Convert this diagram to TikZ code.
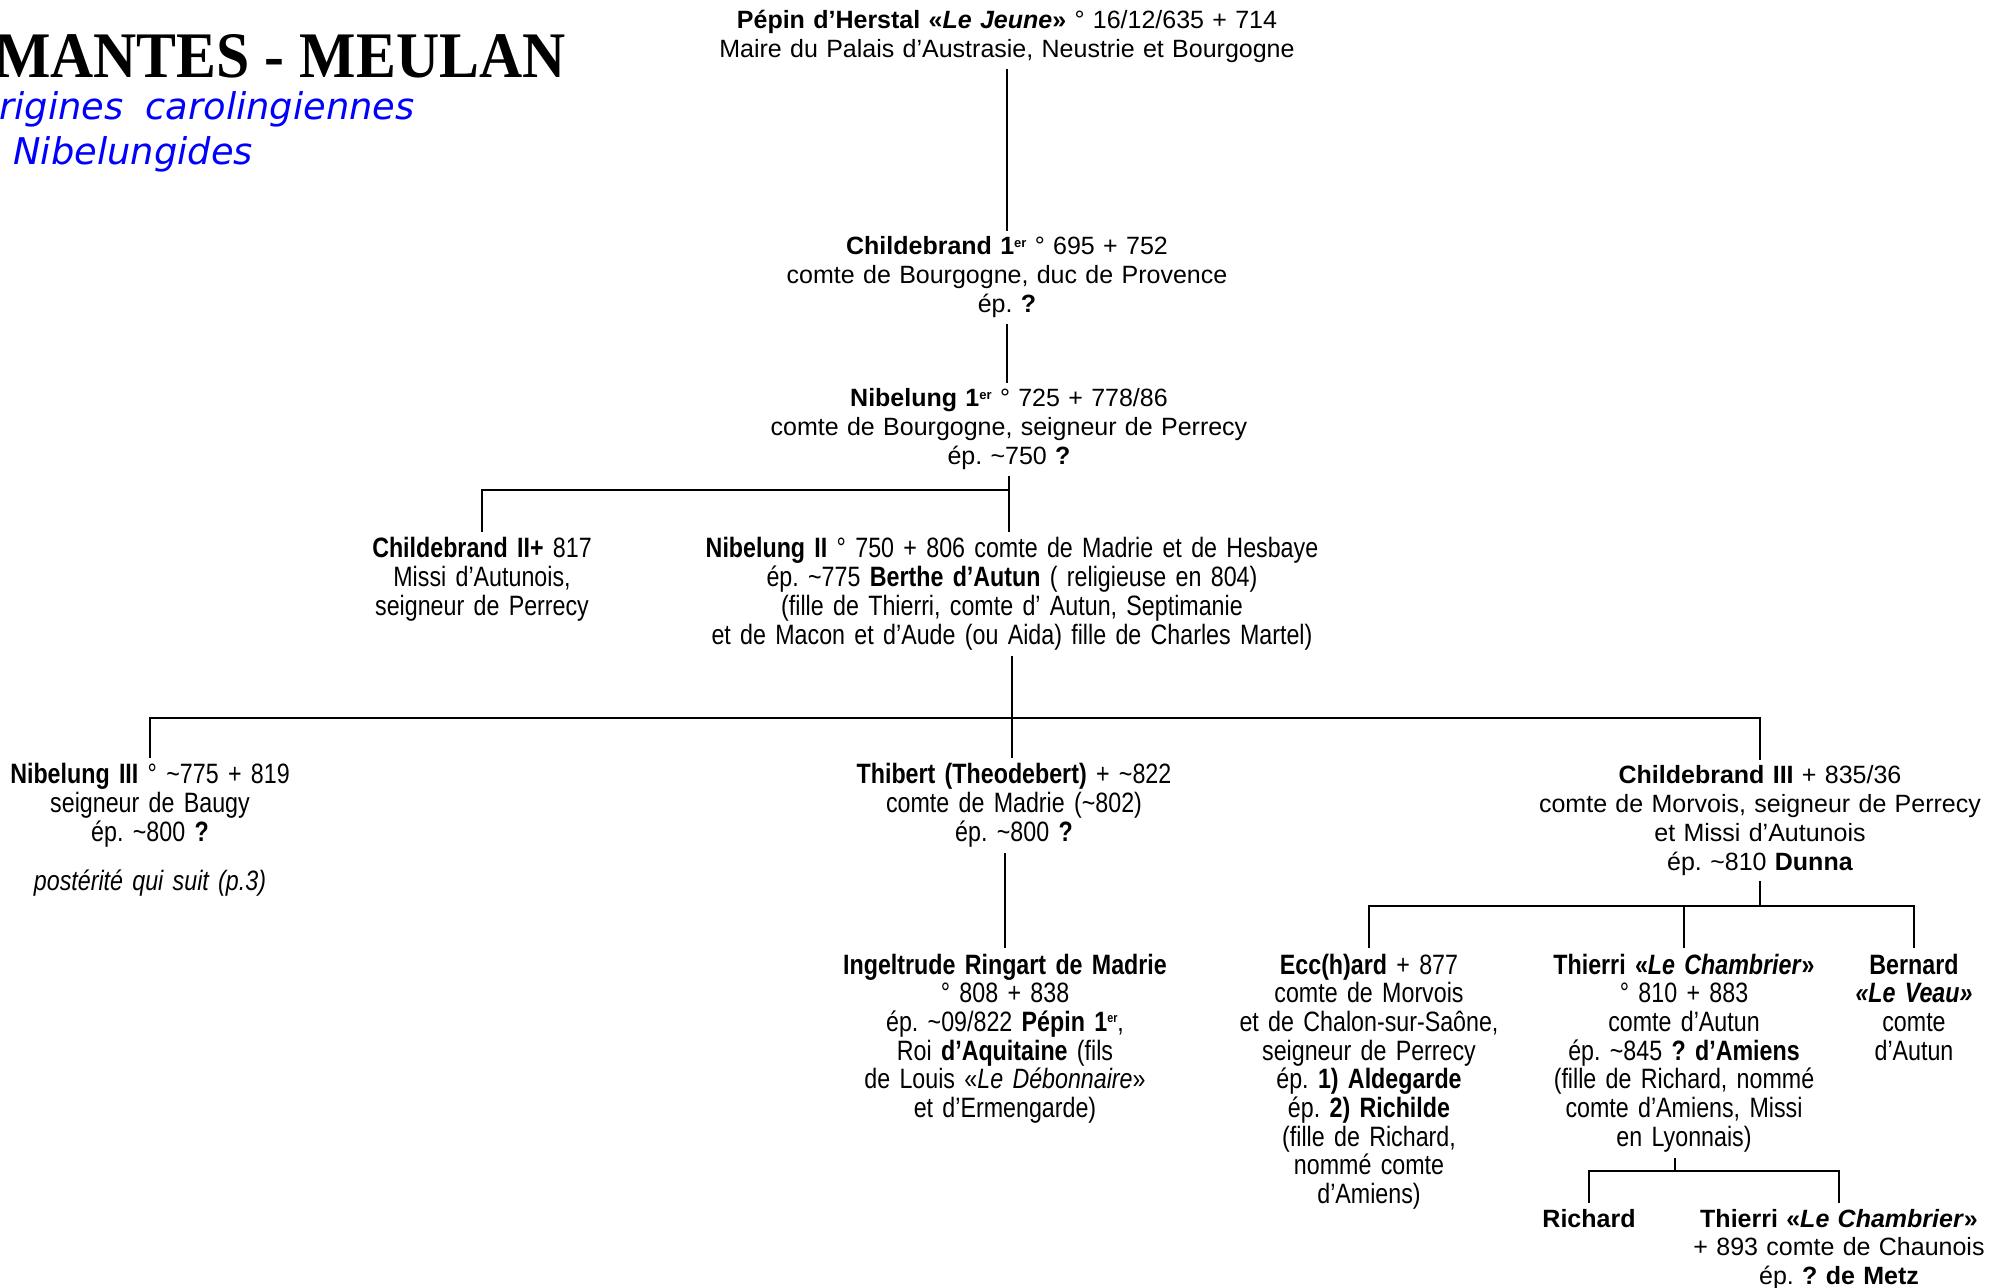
\documentclass[tikz,border=0pt]{standalone}
\usepackage{fontspec}
\setmainfont{Liberation Sans}
\newfontfamily\nf[FakeStretch=0.83]{Liberation Sans}
\newfontfamily\titlefont[FakeStretch=0.92]{Liberation Serif}
\newfontfamily\subfont{DejaVu Sans}
\definecolor{subblue}{RGB}{0,0,255}
\newcommand\ersup{\raisebox{0.6ex}{\fontsize{6.5}{7}\selectfont er}}
\frenchspacing
\begin{document}
\begin{tikzpicture}[x=0.5pt,y=-0.5pt,
  reg/.style={font=\fontsize{12.5}{14.35}\selectfont, align=center, text width=#1, anchor=base, inner sep=0pt, outer ysep=3pt},
  reg/.default=300pt,
  nar/.style={font=\nf\fontsize{14}{14.35}\selectfont, align=center, text width=#1, anchor=base, inner sep=0pt, outer ysep=3pt},
  nar/.default=300pt,
  subt/.style={font=\subfont\itshape\fontsize{18.4}{22}\selectfont, text=subblue, anchor=base west, inner sep=0pt},
  link/.style={line width=1.25pt}]
\useasboundingbox (0,0) rectangle (1999,1288);
\clip (0,0) rectangle (1999,1288);

% titles
\node[font=\titlefont\bfseries\fontsize{32.5}{38}\selectfont, anchor=base east, inner sep=0pt] (title) at (566,78) {MANTES - MEULAN};
\node[subt] (sub1) at (-1,120) {rigines\hspace{0.6em}carolingiennes};
\node[subt] (sub2) at (13,165) {Nibelungides};

% generation 1
\node[reg=400pt] (pepin) at (1007,29) {\textbf{Pépin d’Herstal «\textit{Le Jeune}»} ° 16/12/635 + 714\\Maire du Palais d’Austrasie, Neustrie et Bourgogne};
\node[reg] (chI) at (1007,255) {\textbf{Childebrand 1\ersup} ° 695 + 752\\comte de Bourgogne, duc de Provence\\ép. \textbf{?}};
\node[reg] (nibI) at (1009,407) {\textbf{Nibelung 1\ersup} ° 725 + 778/86\\comte de Bourgogne, seigneur de Perrecy\\ép. \textasciitilde750 \textbf{?}};

\node[nar=150pt] (chII) at (482,558) {\textbf{Childebrand II+} 817\\Missi d’Autunois,\\seigneur de Perrecy};
\node[nar=400pt] (nibII) at (1012,558) {\textbf{Nibelung II} ° 750 + 806 comte de Madrie et de Hesbaye\\ép. \textasciitilde775 \textbf{Berthe d’Autun} ( religieuse en 804)\\(fille de Thierri, comte d’ Autun, Septimanie\\et de Macon et d’Aude (ou Aida) fille de Charles Martel)};

\node[nar=200pt] (nibIII) at (150,784) {\textbf{Nibelung III} ° \textasciitilde775 + 819\\seigneur de Baugy\\ép. \textasciitilde800 \textbf{?}};
\node[nar=200pt, font=\nf\itshape\fontsize{14}{14.35}\selectfont] (post) at (150,891) {postérité qui suit (p.3)};
\node[nar=250pt] (thib) at (1014,784) {\textbf{Thibert (Theodebert)} + \textasciitilde822\\comte de Madrie (\textasciitilde802)\\ép. \textasciitilde800 \textbf{?}};
\node[reg=260pt] (chIII) at (1760,784) {\textbf{Childebrand III} + 835/36\\comte de Morvois, seigneur de Perrecy\\et Missi d’Autunois\\ép. \textasciitilde810 \textbf{Dunna}};

\node[nar=200pt] (ingel) at (1005,974) {\textbf{Ingeltrude Ringart de Madrie}\\° 808 + 838\\ép. \textasciitilde09/822 \textbf{Pépin 1\ersup},\\Roi \textbf{d’Aquitaine} (fils\\de Louis «\textit{Le Débonnaire}»\\et d’Ermengarde)};
\node[nar=150pt] (ecc) at (1369,974) {\textbf{Ecc(h)ard} + 877\\comte de Morvois\\et de Chalon-sur-Saône,\\seigneur de Perrecy\\ép. \textbf{1) Aldegarde}\\ép. \textbf{2) Richilde}\\(fille de Richard,\\nommé comte\\d’Amiens)};
\node[nar=150pt] (thI) at (1684,974) {\textbf{Thierri «\textit{Le Chambrier}»}\\° 810 + 883\\comte d’Autun\\ép. \textasciitilde845 \textbf{? d’Amiens}\\(fille de Richard, nommé\\comte d’Amiens, Missi\\en Lyonnais)};
\node[nar=80pt] (bern) at (1914,974) {\textbf{Bernard}\\\textbf{\textit{«Le Veau»}}\\comte\\d’Autun};

\node[reg=100pt] (rich) at (1589,1227) {\textbf{Richard}};
\node[reg=180pt] (thII) at (1839,1227) {\textbf{Thierri «\textit{Le Chambrier}»}\\+ 893 comte de Chaunois\\ép. \textbf{? de Metz}};

% connectors
\draw[link] (pepin.south) -- (pepin.south |- chI.north);
\draw[link] (chI.south) -- (chI.south |- nibI.north);
\coordinate (j1) at (1010,490);
\draw[link] (chII.north) -- (chII.north |- j1) -| (nibI.south);
\draw[link] (nibI.south) -- (nibI.south |- nibII.north);

\coordinate (j2) at (1010,718);
\draw[link] (nibII.south) -- (nibII.south |- thib.north);
\draw[link] (nibIII.north) -- (nibIII.north |- j2) -- (chIII.north |- j2) -- (chIII.north);

\draw[link] (ingel.north |- thib.south) -- (ingel.north);

\coordinate (j3) at (1760,906);
\draw[link] (chIII.south) -- (chIII.south |- j3);
\draw[link] (ecc.north) -- (ecc.north |- j3) -- (bern.north |- j3) -- (bern.north);
\draw[link] (thI.north) -- (thI.north |- j3);

\coordinate (j4) at (1675,1171);
\draw[link] ([xshift=-4.5pt]thI.south) -- ([xshift=-4.5pt]thI.south |- j4);
\draw[link] (rich.north) -- (rich.north |- j4) -- (thII.north |- j4) -- (thII.north);
\end{tikzpicture}
\end{document}
